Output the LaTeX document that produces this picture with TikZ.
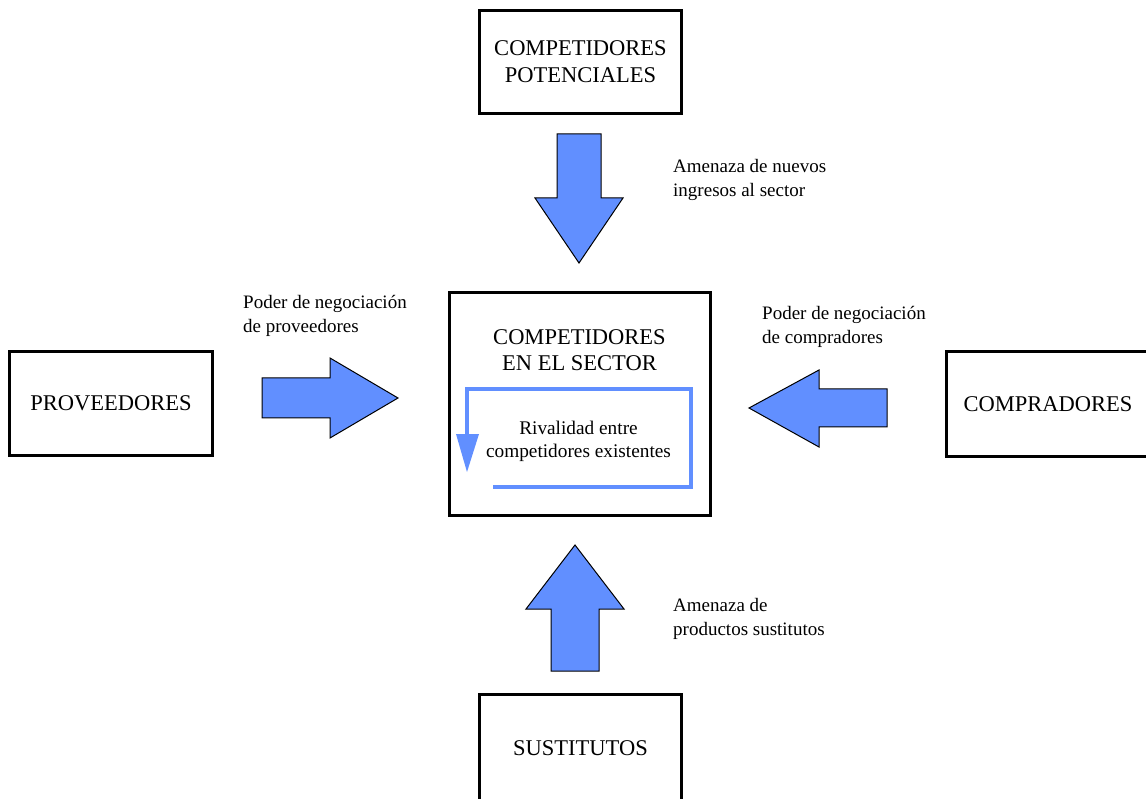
\documentclass[tikz,border=0pt]{standalone}
\usepackage{fontspec}
\setmainfont{Liberation Serif}
\definecolor{forceblue}{RGB}{97,143,255}
\begin{document}
\begin{tikzpicture}[x=1pt,y=-1pt,
  frame/.style={draw=black,line width=3pt,inner sep=0pt,align=center,
                font=\fontsize{22.5}{27}\selectfont},
  title/.style={align=center,inner sep=0pt,font=\fontsize{22.5}{26}\selectfont},
  note/.style={anchor=west,align=left,inner sep=0pt,font=\fontsize{19}{24}\selectfont},
  force/.style={fill=forceblue,draw=black,line width=1pt,line join=miter},
  rival/.style={draw=forceblue,line width=4pt,line join=miter}]
\useasboundingbox[fill=white] (0,0) rectangle (1146,799);
\clip (0,0) rectangle (1146,799);

% the five actors
\node[frame,minimum width=202pt,minimum height=103pt] (pot) at (580.5,62) {COMPETIDORES\\POTENCIALES};
\node[frame,minimum width=261pt,minimum height=222pt] (sec) at (579.5,404) {};
\node[title] (sectitle) at (579.5,350) {COMPETIDORES\\EN EL SECTOR};
\node[frame,minimum width=203pt,minimum height=104pt] (prov) at (111,403.5) {PROVEEDORES};
\node[frame,minimum width=203pt,minimum height=104pt] (comp) at (1048,404) {COMPRADORES};
\node[frame,minimum width=202pt,minimum height=108pt] (sust) at (580.5,748.5) {SUSTITUTOS};

% rivalry loop inside the sector
\node[align=center,inner sep=0pt,font=\fontsize{19.3}{23}\selectfont] (riv) at (578.5,441)
  {Rivalidad entre\\competidores existentes};
\draw[rival] (493,487) -| (691,389) -| (467,434);
\fill[forceblue] (456,434) -- (479,434) -- (467,472) -- cycle;

% block arrows of the four forces
\draw[force] (557,134) -- (601,134) -- (601,198) -- (623,198) -- (579,263)
  -- (535,198) -- (557,198) -- cycle;
\draw[force] (551,671) -- (599,671) -- (599,609) -- (624,609) -- (575,545)
  -- (526,609) -- (551,609) -- cycle;
\draw[force] (262,378) -- (330,378) -- (330,358) -- (398,398) -- (330,438)
  -- (330,418) -- (262,418) -- cycle;
\draw[force] (887,389) -- (819,389) -- (819,370) -- (749,408) -- (819,447)
  -- (819,427) -- (887,427) -- cycle;

% force labels
\node[note] (lnew) at (673,179.5) {Amenaza de nuevos\\ingresos al sector};
\node[note] (lprov) at (243,315.5) {Poder de negociación\\de proveedores};
\node[note] (lcomp) at (762,326.5) {Poder de negociación\\de compradores};
\node[note] (lsust) at (673,618.5) {Amenaza de\\productos sustitutos};
\end{tikzpicture}
\end{document}
